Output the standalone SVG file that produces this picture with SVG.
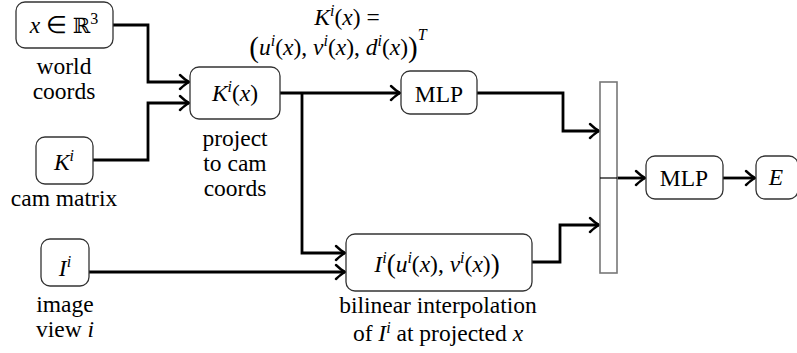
<svg xmlns="http://www.w3.org/2000/svg" width="797" height="353" viewBox="0 0 797 353" font-family="Liberation Serif, Times New Roman, Times, serif">
  <style>
    text { font-family: 'Liberation Serif', 'Times New Roman', Times, serif; font-size: 23.5px; fill: #000; }
    .c { text-anchor: middle; }
    .i { font-style: italic; }
    .sup { font-size: 16px; }
    .node { fill: #fff; stroke: #333; stroke-width: 1.3; }
    .bar { fill: #fff; stroke: #777; stroke-width: 1.6; }
    .edge { fill: none; stroke: #000; stroke-width: 2.8; stroke-linejoin: miter; }
    .thin { fill: none; stroke: #000; stroke-width: 1.2; }
  </style>
  <defs>
    <marker id="arrow" markerUnits="userSpaceOnUse" markerWidth="14" markerHeight="18" viewBox="-12 -9 14 18" refX="0" refY="0" orient="auto">
      <path d="M -9,-7 Q -3,-1.5 0,0 Q -3,1.5 -9,7" fill="none" stroke="#000" stroke-width="2.4" stroke-linecap="round"/>
    </marker>
  </defs>

  <!-- connectors -->
  <g id="connectors">
    <path class="edge" d="M113,25 H148 V82 H189" marker-end="url(#arrow)"/>
    <path class="edge" d="M93,160 H148 V103 H189" marker-end="url(#arrow)"/>
    <path class="edge" d="M280,93 H400" marker-end="url(#arrow)"/>
    <path class="edge" d="M302,93 V253 H345" marker-end="url(#arrow)"/>
    <path class="edge" d="M89,272 H345" marker-end="url(#arrow)"/>
    <path class="edge" d="M477,93 H563 V131 H599" marker-end="url(#arrow)"/>
    <path class="edge" d="M532,262 H560 V225 H599" marker-end="url(#arrow)"/>
    <path class="edge" d="M617,178 H645" marker-end="url(#arrow)"/>
    <path class="edge" d="M723,178 H755" marker-end="url(#arrow)"/>
  </g>

  <!-- world point -->
  <g id="world-point">
    <rect class="node" x="16" y="2" width="97" height="46" rx="9"/>
    <text class="c" x="64" y="33"><tspan class="i">x</tspan> ∈ <tspan style="font-family: 'DejaVu Serif', serif; font-size: 21px">ℝ</tspan><tspan class="sup" dy="-9">3</tspan></text>
    <text class="c" x="64" y="74">world</text>
    <text class="c" x="64" y="99">coords</text>
  </g>

  <!-- camera matrix -->
  <g id="cam-matrix">
    <rect class="node" x="36" y="137" width="57" height="47" rx="9"/>
    <text class="c" x="64" y="170"><tspan class="i">K</tspan><tspan class="sup i" dy="-9">i</tspan></text>
    <text class="c" x="64" y="206">cam matrix</text>
  </g>

  <!-- projection -->
  <g id="projection">
    <rect class="node" x="190" y="67" width="90" height="52" rx="9"/>
    <text class="c" x="235" y="101"><tspan class="i">K</tspan><tspan class="sup i" dy="-9">i</tspan><tspan dy="9">(</tspan><tspan class="i">x</tspan>)</text>
    <text class="c" x="235" y="146">project</text>
    <text class="c" x="235" y="171">to cam</text>
    <text class="c" x="235" y="196">coords</text>
  </g>

  <!-- projection formula -->
  <g id="formula">
    <text class="c" x="347" y="25"><tspan class="i">K</tspan><tspan class="sup i" dy="-9">i</tspan><tspan dy="9">(</tspan><tspan class="i">x</tspan>) =</text>
    <text class="c" x="338" y="55"><tspan font-size="29px" dy="2">(</tspan><tspan class="i" dy="-2">u</tspan><tspan class="sup i" dy="-9">i</tspan><tspan dy="9">(</tspan><tspan class="i">x</tspan>), <tspan class="i">v</tspan><tspan class="sup i" dy="-9">i</tspan><tspan dy="9">(</tspan><tspan class="i">x</tspan>), <tspan class="i">d</tspan><tspan class="sup i" dy="-9">i</tspan><tspan dy="9">(</tspan><tspan class="i">x</tspan>)<tspan font-size="29px" dy="2">)</tspan><tspan class="sup i" dy="-17">T</tspan></text>
  </g>

  <!-- image -->
  <g id="image-view">
    <rect class="node" x="41" y="239" width="48" height="47" rx="9"/>
    <text class="c" x="65" y="276"><tspan class="i">I</tspan><tspan class="sup i" dy="-9">i</tspan></text>
    <text class="c" x="65" y="312">image</text>
    <text class="c" x="65" y="337">view <tspan class="i">i</tspan></text>
  </g>

  <!-- first MLP -->
  <g id="mlp-1">
    <rect class="node" x="401" y="71" width="76" height="43" rx="9"/>
    <text class="c" x="439" y="102">MLP</text>
  </g>

  <!-- bilinear sampling -->
  <g id="interpolation">
    <rect class="node" x="346" y="234" width="186" height="57" rx="9"/>
    <text class="c" x="437" y="272"><tspan class="i">I</tspan><tspan class="sup i" dy="-9">i</tspan><tspan font-size="27px" dy="10">(</tspan><tspan class="i" dy="-1">u</tspan><tspan class="sup i" dy="-9">i</tspan><tspan dy="9">(</tspan><tspan class="i">x</tspan>), <tspan class="i">v</tspan><tspan class="sup i" dy="-9">i</tspan><tspan dy="9">(</tspan><tspan class="i">x</tspan>)<tspan font-size="27px" dy="1">)</tspan></text>
    <text class="c" x="438" y="313">bilinear interpolation</text>
    <text class="c" x="438" y="341">of <tspan class="i">I</tspan><tspan class="sup i" dy="-8">i</tspan><tspan dy="8"> at projected </tspan><tspan class="i">x</tspan></text>
  </g>

  <!-- concatenation -->
  <g id="concat">
    <rect class="bar" x="600" y="82" width="17" height="191"/>
    <path class="thin" d="M600,178 H617"/>
  </g>

  <!-- second MLP -->
  <g id="mlp-2">
    <rect class="node" x="646" y="156" width="77" height="43" rx="9"/>
    <text class="c" x="684" y="186">MLP</text>
  </g>

  <!-- output -->
  <g id="output">
    <rect class="node" x="756" y="156" width="42" height="43" rx="9"/>
    <text class="c i" x="776" y="185">E</text>
  </g>
</svg>
